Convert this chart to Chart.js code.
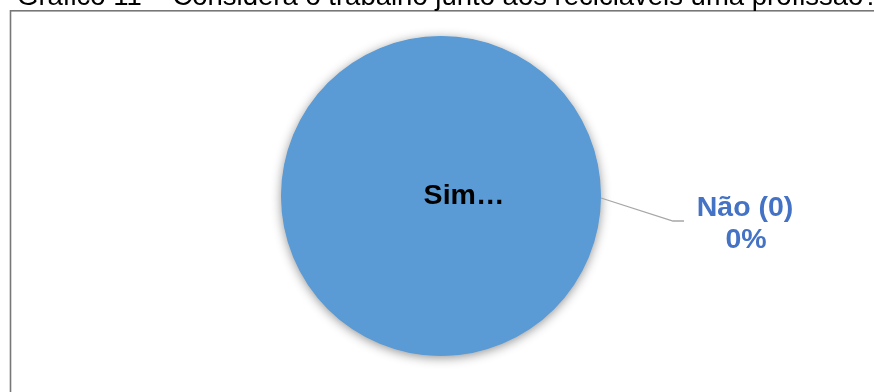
<!DOCTYPE html>
<html>
<head>
<meta charset="utf-8">
<script src="https://cdn.jsdelivr.net/npm/chart.js@4"></script>
<style>
  html, body { margin: 0; padding: 0; background: #ffffff; }
  #wrap { width: 874px; height: 392px; }
</style>
</head>
<body>
<div id="wrap"><canvas id="grafico" width="874" height="392"></canvas></div>
<script>
// Gráfico 11 - respostas sobre o trabalho com recicláveis
var titulo = "Gráfico 11 – Considera o trabalho junto aos recicláveis uma profissão?";
var categorias = ["Sim", "Não"];
var rotulos = ["Sim…", "Não (0)"];
var percentuais = [100, 0];
var cores = ["#5b9bd5", "#ed7d31"];

// moldura e título (cortados no topo)
var moldura = {
    id: "moldura",
    beforeDraw: function (chart) {
        var ctx = chart.ctx;
        ctx.save();
        ctx.fillStyle = "#ffffff";
        ctx.fillRect(0, 0, chart.width, chart.height);
        ctx.strokeStyle = "#777777";
        ctx.lineWidth = 1.6;
        ctx.strokeRect(10.5, 10.8, chart.width + 20, chart.height + 20);
        ctx.fillStyle = "#000000";
        ctx.font = "27.5px 'Liberation Sans', Arial, sans-serif";
        ctx.textBaseline = "alphabetic";
        ctx.textAlign = "left";
        ctx.fillText(titulo, 17, 4.5);
        ctx.restore();
    }
};

// sombra suave por baixo da pizza
var sombra = {
    id: "sombra",
    beforeDatasetsDraw: function (chart) {
        var arc = chart.getDatasetMeta(0).data[0];
        var ctx = chart.ctx;
        ctx.save();
        ctx.shadowColor = "rgba(0,0,0,0.45)";
        ctx.shadowBlur = 11;
        ctx.shadowOffsetX = 0;
        ctx.shadowOffsetY = 2;
        ctx.fillStyle = cores[0];
        ctx.beginPath();
        ctx.arc(arc.x, arc.y, arc.outerRadius - 0.5, 0, Math.PI * 2);
        ctx.fill();
        ctx.restore();
    }
};

// rótulos de dados e linha de chamada
var rotulosDados = {
    id: "rotulosDados",
    afterDatasetsDraw: function (chart) {
        var arc = chart.getDatasetMeta(0).data[0];
        var cx = arc.x, cy = arc.y, r = arc.outerRadius;
        var ctx = chart.ctx;
        ctx.save();
        ctx.textAlign = "center";
        ctx.textBaseline = "alphabetic";

        ctx.fillStyle = "#000000";
        ctx.font = "bold 28.5px 'Liberation Sans', Arial, sans-serif";
        ctx.fillText(rotulos[0], cx + 23, cy + 7.5);

        ctx.strokeStyle = "#a6a6a6";
        ctx.lineWidth = 1.3;
        ctx.beginPath();
        ctx.moveTo(cx + r, cy + 2);
        ctx.lineTo(cx + r + 72, cy + 25);
        ctx.lineTo(cx + r + 83, cy + 25);
        ctx.stroke();

        ctx.fillStyle = "#4472c4";
        ctx.fillText(rotulos[1], cx + 304, cy + 20);
        ctx.fillText(percentuais[1] + "%", cx + 305, cy + 52);
        ctx.restore();
    }
};

new Chart(document.getElementById("grafico"), {
    type: "pie",
    data: {
        labels: categorias,
        datasets: [{
            data: percentuais,
            backgroundColor: cores,
            borderWidth: 0
        }]
    },
    options: {
        responsive: false,
        animation: false,
        layout: { padding: { top: 36, bottom: 36, left: 8, right: 0 } },
        plugins: {
            legend: { display: false },
            tooltip: { enabled: false }
        }
    },
    plugins: [moldura, sombra, rotulosDados]
});
</script>
</body>
</html>
